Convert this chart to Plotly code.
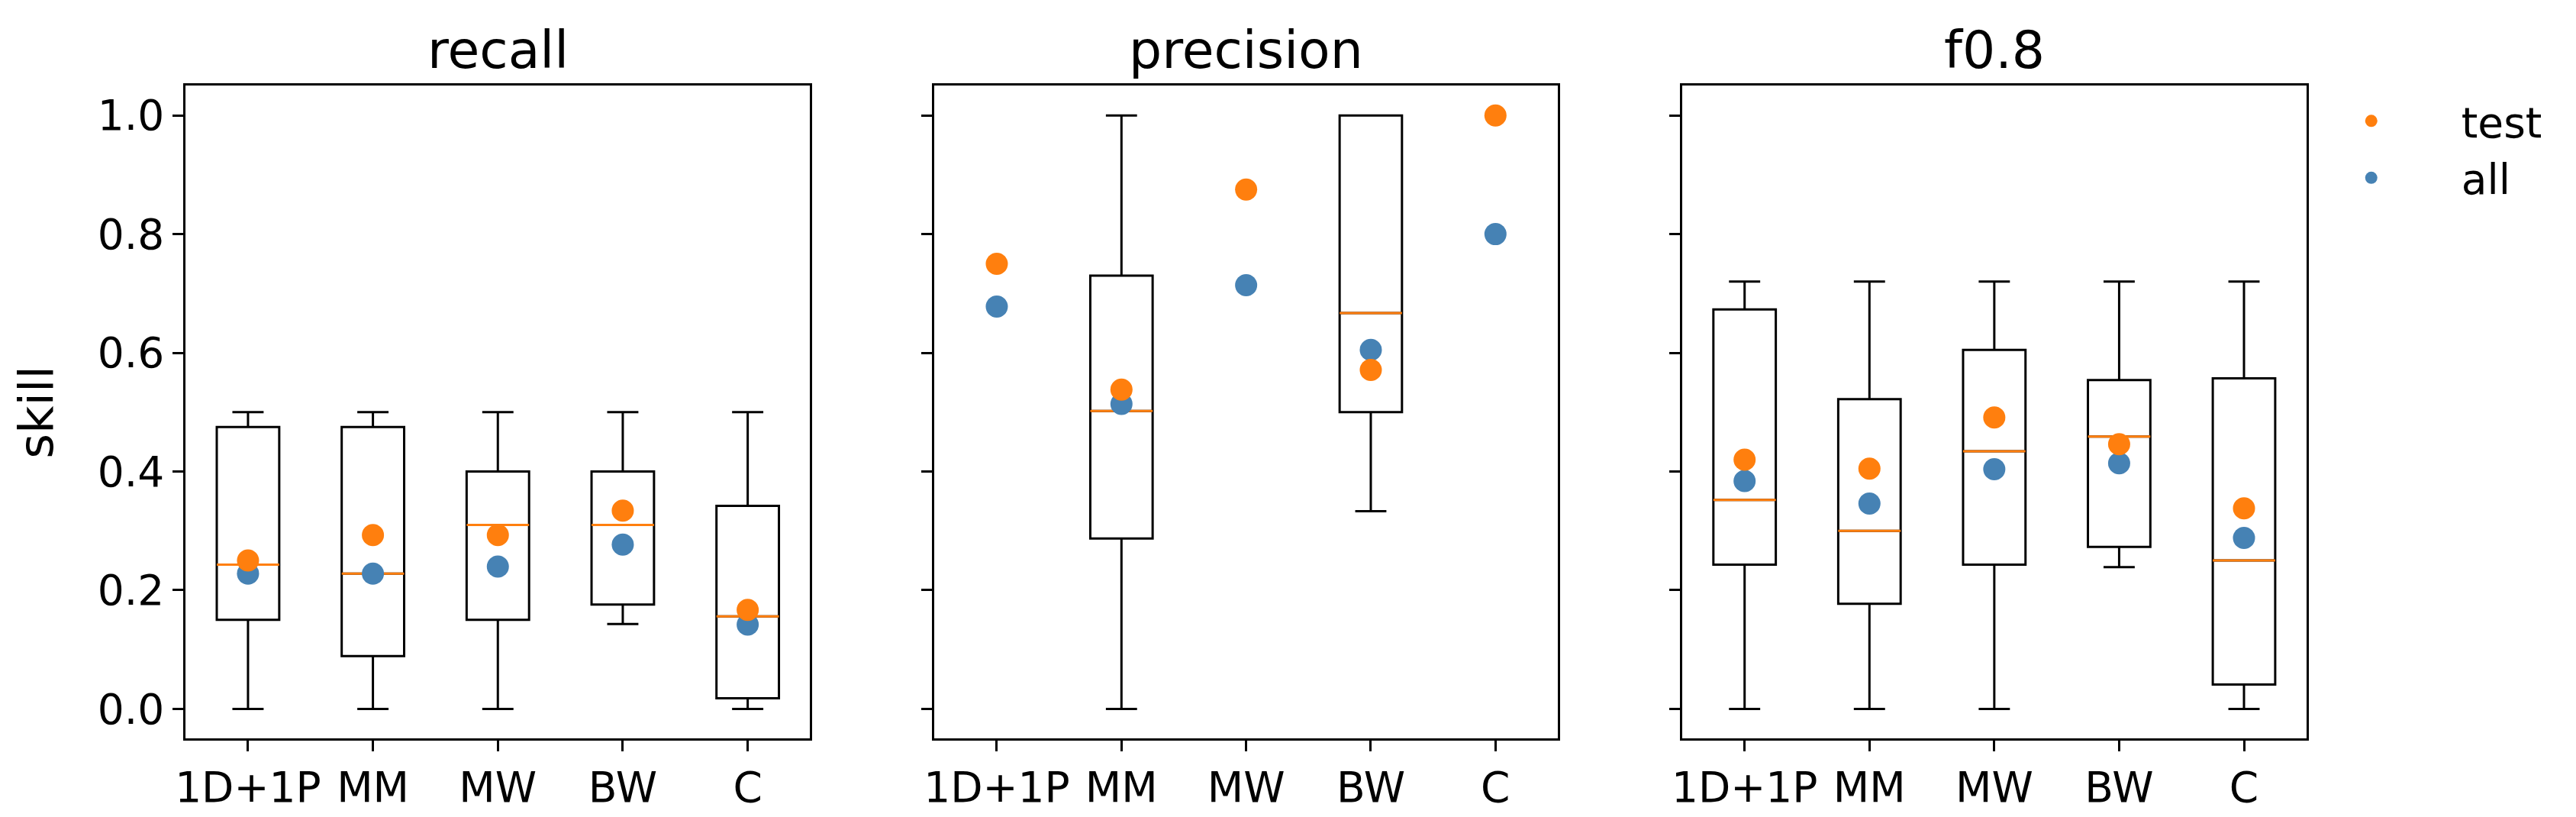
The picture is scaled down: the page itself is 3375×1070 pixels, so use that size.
import plotly.graph_objects as go

categories = ["1D+1P", "MM", "MW", "BW", "C"]
positions = [1, 2, 3, 4, 5]
panels = ["recall", "precision", "f0.8"]

# box stats per panel (None = no box drawn)
recall_q1 = [0.150, 0.089, 0.150, 0.176, 0.018]
recall_med = [0.243, 0.228, 0.310, 0.310, 0.156]
recall_q3 = [0.475, 0.475, 0.400, 0.400, 0.342]
recall_lo = [0.0, 0.0, 0.0, 0.143, 0.0]
recall_hi = [0.5, 0.5, 0.5, 0.5, 0.5]
recall_test = [0.250, 0.293, 0.293, 0.334, 0.167]
recall_all = [0.228, 0.228, 0.240, 0.277, 0.142]

precision_q1 = [None, 0.287, None, 0.500, None]
precision_med = [None, 0.502, None, 0.667, None]
precision_q3 = [None, 0.730, None, 1.0, None]
precision_lo = [None, 0.0, None, 0.333, None]
precision_hi = [None, 1.0, None, 1.0, None]
precision_test = [0.750, 0.538, 0.875, 0.571, 1.0]
precision_all = [0.678, 0.514, 0.714, 0.605, 0.800]

f08_q1 = [0.243, 0.177, 0.243, 0.273, 0.041]
f08_med = [0.352, 0.300, 0.434, 0.459, 0.250]
f08_q3 = [0.673, 0.522, 0.605, 0.554, 0.557]
f08_lo = [0.0, 0.0, 0.0, 0.239, 0.0]
f08_hi = [0.72, 0.72, 0.72, 0.72, 0.72]
f08_test = [0.420, 0.405, 0.491, 0.446, 0.338]
f08_all = [0.384, 0.346, 0.404, 0.414, 0.288]

ORANGE = "#ff7f0e"
BLUE = "#4682b4"
FONT = "DejaVu Sans"

stats = [
    (recall_q1, recall_med, recall_q3, recall_lo, recall_hi, recall_test, recall_all),
    (precision_q1, precision_med, precision_q3, precision_lo, precision_hi, precision_test, precision_all),
    (f08_q1, f08_med, f08_q3, f08_lo, f08_hi, f08_test, f08_all),
]

x_domains = [[0.06578, 0.30927], [0.35772, 0.60071], [0.64919, 0.89253]]
y_domain = [0.10346, 0.90252]

fig = go.Figure()

for i, (q1, med, q3, lo, hi, test, allv) in enumerate(stats):
    xa = "x" if i == 0 else f"x{i+1}"
    ya = "y" if i == 0 else f"y{i+1}"
    keep = [j for j in range(len(positions)) if q1[j] is not None]
    px_ = [positions[j] for j in keep]
    sel = lambda arr: [arr[j] for j in keep]
    # boxes + whiskers
    fig.add_trace(go.Box(
        x=px_, q1=sel(q1), median=sel(med), q3=sel(q3),
        lowerfence=sel(lo), upperfence=sel(hi),
        width=0.5, whiskerwidth=0.5, boxpoints=False,
        line=dict(color="black", width=3), fillcolor="rgba(0,0,0,0)",
        showlegend=False, xaxis=xa, yaxis=ya, hoverinfo="skip"))
    # orange median lines (flat boxes)
    fig.add_trace(go.Box(
        x=px_, q1=sel(med), median=sel(med), q3=sel(med),
        lowerfence=sel(med), upperfence=sel(med),
        width=0.5, whiskerwidth=0, boxpoints=False,
        line=dict(color=ORANGE, width=3), fillcolor="rgba(0,0,0,0)",
        showlegend=False, xaxis=xa, yaxis=ya, hoverinfo="skip"))
    fig.add_trace(go.Scatter(
        x=positions, y=allv, mode="markers", name="all",
        marker=dict(color=BLUE, size=29), legendrank=2,
        showlegend=(i == 0), xaxis=xa, yaxis=ya))
    fig.add_trace(go.Scatter(
        x=positions, y=test, mode="markers", name="test",
        marker=dict(color=ORANGE, size=29), legendrank=1,
        showlegend=(i == 0), xaxis=xa, yaxis=ya))

axis_common = dict(showline=True, mirror=True, linecolor="black", linewidth=2.7,
                   showgrid=False, zeroline=False, ticks="outside", ticklen=14,
                   tickwidth=2.7, tickcolor="black",
                   tickfont=dict(family=FONT, size=55, color="black"))

layout = dict(
    width=3375, height=1070, autosize=False,
    margin=dict(l=0, r=0, t=0, b=0),
    plot_bgcolor="white", paper_bgcolor="white",
    boxmode="overlay",
    font=dict(family=FONT, color="black"),
    legend=dict(x=0.8827, y=0.899, xanchor="left", yanchor="top", itemwidth=226,
                font=dict(family=FONT, size=55), bgcolor="rgba(0,0,0,0)"),
    annotations=[],
)

for i, name in enumerate(panels):
    sfx = "" if i == 0 else str(i + 1)
    layout["xaxis" + sfx] = dict(axis_common, domain=x_domains[i], range=[0.5, 5.5],
                                 tickvals=positions, ticktext=categories,
                                 anchor="y" + sfx)
    layout["yaxis" + sfx] = dict(axis_common, domain=y_domain, range=[-0.05, 1.05],
                                 tickvals=[0, 0.2, 0.4, 0.6, 0.8, 1.0],
                                 tickformat=".1f", showticklabels=(i == 0),
                                 anchor="x" + sfx)
    layout["annotations"].append(dict(
        text=name, xref="paper", yref="paper",
        x=sum(x_domains[i]) / 2, y=0.9075, xanchor="center", yanchor="bottom",
        showarrow=False, font=dict(family=FONT, size=68, color="black")))

layout["yaxis"]["title"] = dict(text="skill", font=dict(family=FONT, size=63, color="black"),
                                standoff=38)

fig.update_layout(**layout)
fig.write_html("out.html")
